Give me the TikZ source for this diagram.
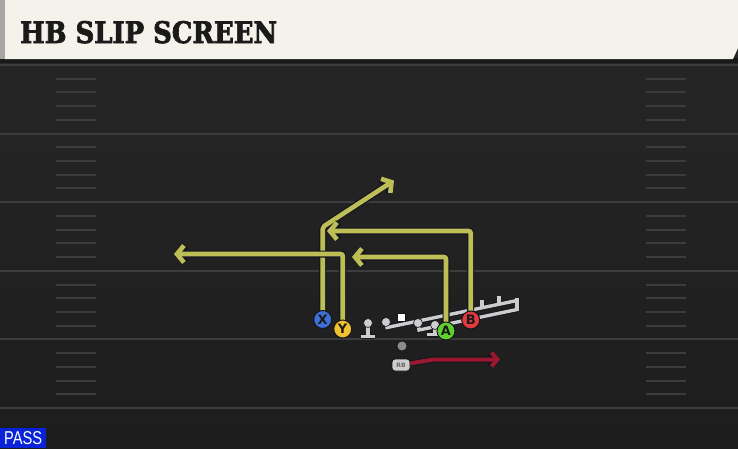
\documentclass[tikz,border=0pt]{standalone}
\usepackage{fontspec}
\usepackage{graphicx}
\usetikzlibrary{arrows.meta}
\newfontfamily\titlefont[BoldFeatures={FakeBold=2.6}]{DejaVu Serif}
\newfontfamily\plfont{DejaVu Sans}
\newfontfamily\passfont{Liberation Sans}
\definecolor{bgtop}{HTML}{272727}
\definecolor{bgbot}{HTML}{1D1D1D}
\definecolor{yardc}{HTML}{3C3C3C}
\definecolor{hashc}{HTML}{3C3C3C}
\definecolor{headc}{HTML}{F4F2EB}
\definecolor{routey}{HTML}{BDBF56}
\definecolor{outl}{HTML}{15151E}
\definecolor{redr}{HTML}{9A1830}
\definecolor{olg}{HTML}{CDCDCD}
\definecolor{xblue}{HTML}{3D70D6}
\definecolor{yyel}{HTML}{F2C12E}
\definecolor{agreen}{HTML}{5FD12F}
\definecolor{bred}{HTML}{E0393E}
\definecolor{passblue}{HTML}{0A22D8}
\definecolor{txtdark}{HTML}{1A1A1A}
\pgfdeclarelayer{field}
\pgfdeclarelayer{routes}
\pgfsetlayers{field,routes,main}
\tikzset{
  yard/.style={draw=yardc, line width=2pt},
  hashm/.style={draw=hashc, line width=2pt},
  player/.style={circle, draw=outl, line width=1pt, minimum size=18pt, inner sep=0pt,
    font=\plfont\bfseries\fontsize{13}{13}\selectfont, text=txtdark},
  routeout/.style={draw=outl, line width=7pt, line join=round, rounded corners=2pt,
    -{Straight Barb[length=7pt,width=17pt]}},
  route/.style={draw=routey, line width=4.6pt, line join=round, rounded corners=2pt,
    -{Straight Barb[length=7pt,width=17pt]}},
  redout/.style={draw=outl, line width=6pt, line join=round,
    -{Straight Barb[length=6pt,width=14pt]}},
  redroute/.style={draw=redr, line width=4pt, line join=round,
    -{Straight Barb[length=6pt,width=14pt]}},
  olout/.style={draw=outl, line width=5pt},
  ol/.style={draw=olg, line width=3.4pt},
}
\begin{document}
\begin{tikzpicture}[x=1pt,y=-1pt]
\useasboundingbox (0,0) rectangle (738,448);
\begin{pgfonlayer}{field}
\shade[top color=bgtop, bottom color=bgbot] (0,0) rectangle (738,448);
% yard lines and hash marks
\foreach \k in {0,...,5} {
  \draw[yard] (0,{65+68.6*\k}) -- (738,{65+68.6*\k});
}
\foreach \k in {0,...,4} {
  \foreach \j in {1,...,4} {
    \draw[hashm] (56,{65+68.6*\k+13.72*\j}) -- (96,{65+68.6*\k+13.72*\j});
    \draw[hashm] (646,{65+68.6*\k+13.72*\j}) -- (686,{65+68.6*\k+13.72*\j});
  }
}
% header
\fill[black!90] (0,58) rectangle (738,63);
\fill[headc] (4,0) -- (738,0) -- (738,48) -- (733,59) -- (4,59) -- cycle;
\fill[black!35] (0,0) rectangle (5,59);
% offensive line
\foreach \s in {olout,ol} {
  \draw[\s] (368,323) -- (368,336);
  \draw[\s] (361,336.5) -- (375,336.5);
  \draw[\s] (386,322) -- (387,327.5) -- (517,300.5);
  \draw[\s] (482,308) -- (482,300);
  \draw[\s] (499,304.5) -- (499,296);
  \draw[\s] (517,297.5) -- (517,311);
  \draw[\s] (418,323) -- (419,330) -- (517,309.5);
  \draw[\s] (435,325) -- (435,334);
  \draw[\s] (427,334.5) -- (442,334.5);
}
\fill[olg, draw=outl, line width=0.6pt] (368,323) circle (4.5);
\fill[olg, draw=outl, line width=0.6pt] (386,322) circle (4.5);
\fill[olg, draw=outl, line width=0.6pt] (418,323) circle (4.5);
\fill[olg, draw=outl, line width=0.6pt] (435,325) circle (4.5);
\fill[white, draw=outl, line width=0.6pt] (397.5,313.5) rectangle (405.5,321.5);
\fill[black!45, draw=outl, line width=0.6pt] (402,346) circle (5);
\end{pgfonlayer}
\node[anchor=base west, inner sep=0pt, text=txtdark] (title) at (20,43)
  {\resizebox{257pt}{22pt}{\titlefont\bfseries HB SLIP SCREEN}};
\node[fill=passblue, text=white, minimum width=46pt, minimum height=20pt, inner sep=0pt,
  anchor=north west] (pass) at (0,428) {\resizebox{38pt}{13pt}{\passfont PASS}};
% RB and players
\node[draw=outl, fill=olg, line width=0.8pt, rounded corners=3pt, minimum width=18pt,
  minimum height=12pt, inner sep=0pt, font=\plfont\bfseries\fontsize{6}{6}\selectfont,
  text=black!60] (RB) at (401,365) {RB};
\node[player, fill=xblue] (X) at (322.7,319.5) {X};
\node[player, fill=yyel] (Y) at (342.7,329) {Y};
\node[player, fill=agreen] (A) at (446,331) {A};
\node[player, fill=bred] (B) at (470.7,320) {B};
% route coordinates
\coordinate (xc) at (322.7,227);
\coordinate (xe) at (394,180.5);
\coordinate (yc) at (342.7,254);
\coordinate (ye) at (174,254);
\coordinate (ac) at (446,257);
\coordinate (ae) at (352,257);
\coordinate (bc) at (470.7,231);
\coordinate (be) at (327,231);
\coordinate (rc) at (433,359.5);
\coordinate (re) at (500,359.5);
\begin{pgfonlayer}{routes}
\draw[routeout] (X.center) -- (xc) -- (xe);
\draw[route] (X.center) -- (xc) -- (xe);
\draw[routeout] (Y.center) -- (yc) -- (ye);
\draw[route] (Y.center) -- (yc) -- (ye);
\draw[routeout] (A.center) -- (ac) -- (ae);
\draw[route] (A.center) -- (ac) -- (ae);
\draw[routeout] (B.center) -- (bc) -- (be);
\draw[route] (B.center) -- (bc) -- (be);
\draw[redout] (RB) -- (rc) -- (re);
\draw[redroute] (RB) -- (rc) -- (re);
\end{pgfonlayer}
\end{tikzpicture}
\end{document}
